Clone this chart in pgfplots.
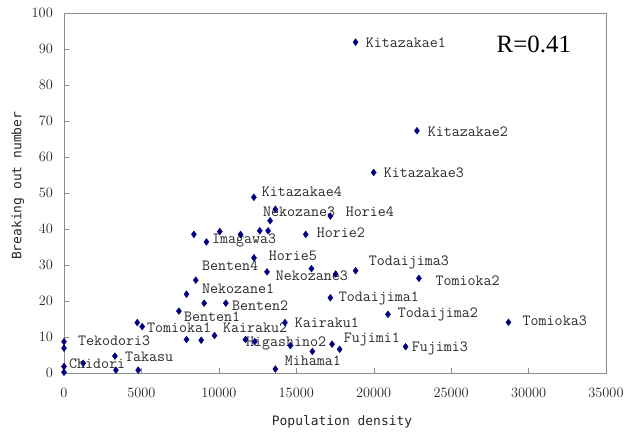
\documentclass[border=0pt]{standalone}
\usepackage{pgfplots}
\pgfplotsset{compat=1.18}
\usepackage{fontspec}
\setmainfont{Liberation Serif}
\newfontfamily\gothic{DejaVu Sans Mono}
\newfontfamily\rfont{Liberation Serif}
\definecolor{navy}{HTML}{000080}
\definecolor{frame}{HTML}{8C8C8C}
\definecolor{lbltext}{HTML}{2A2A2A}
\tikzset{lbl/.style={anchor=west, inner sep=0pt, text=lbltext,
    font=\ttfamily\fontsize{15.6}{15.6}\selectfont}}

\begin{document}
\begin{tikzpicture}
\begin{axis}[
  scale only axis, width=542bp, height=360bp,
  xmin=0, xmax=35000, ymin=0, ymax=100,
  xtick distance=5000, ytick distance=10,
  scaled x ticks=false,
  /pgf/number format/set thousands separator={},
  axis line style={frame},
  tick style={frame},
  tick align=inside, major tick length=5bp,
  xtick pos=bottom, ytick pos=left,
  ticklabel style={font=\fontsize{15}{15}\selectfont, text=black!85},
  xticklabel style={inner sep=0pt, anchor=north, yshift=-15bp},
  yticklabel style={inner sep=0pt, anchor=east, xshift=-11bp},
  xlabel={Population density},
  ylabel={Breaking out number},
  label style={font=\gothic\fontsize{13}{13}\selectfont, text=black!85},
  xlabel style={at={(axis description cs:0.513,-0.136)}, anchor=center},
  ylabel style={at={(axis description cs:-0.085,0.52)}, anchor=center},
  clip=false,
]
\addplot[only marks, mark=diamond*, mark size=3.4bp,
  mark options={draw=navy, fill=navy}] coordinates {
  (0,8.7) (0,6.9) (0,1.8) (0,0.2) (1240,2.7)
  (3290,4.7) (3350,0.8) (4790,0.8) (4730,14.0) (5050,12.9)
  (7420,17.2) (7910,21.9) (8510,25.8) (8390,38.5) (9200,36.4)
  (10060,39.3) (11400,38.5) (12640,39.5) (13180,39.5) (13310,42.3)
  (13650,45.5) (12260,48.8) (12270,32.0) (13110,28.1) (15980,29.0)
  (9050,19.4) (10450,19.4) (7910,9.3) (8860,9.1) (9720,10.4)
  (11720,9.3) (12320,8.7) (14270,14.0) (14620,7.6) (16040,6.0)
  (13650,1.1) (17200,43.6) (15610,38.5) (17540,27.5) (18830,28.4)
  (22920,26.3) (17200,20.9) (20920,16.3) (28700,14.1) (17310,8.0)
  (17800,6.6) (22060,7.3) (18830,91.9) (22790,67.3) (20000,55.7)
};
\node[lbl] at (axis cs:19480,91.7) {Kitazakae1};
\node[lbl] at (axis cs:23480,66.9) {Kitazakae2};
\node[lbl] at (axis cs:20640,55.6) {Kitazakae3};
\node[lbl] at (axis cs:12770,50.3) {Kitazakae4};
\node[lbl] at (axis cs:12840,44.7) {Nekozane3};
\node[lbl] at (axis cs:18190,44.7) {Horie4};
\node[lbl] at (axis cs:16320,38.9) {Horie2};
\node[lbl] at (axis cs:9550,36.9) {Imagawa3};
\node[lbl] at (axis cs:13220,32.5) {Horie5};
\node[lbl] at (axis cs:8900,29.7) {Benten4};
\node[lbl] at (axis cs:13670,26.9) {Nekozane3};
\node[lbl] at (axis cs:8900,23.3) {Nekozane1};
\node[lbl] at (axis cs:10840,18.6) {Benten2};
\node[lbl] at (axis cs:7740,15.6) {Benten1};
\node[lbl] at (axis cs:5350,12.5) {Tomioka1};
\node[lbl] at (axis cs:10260,12.5) {Kairaku2};
\node[lbl] at (axis cs:900,8.9) {Tekodori3};
\node[lbl] at (axis cs:11740,8.3) {Higashino2};
\node[lbl] at (axis cs:3930,4.4) {Takasu};
\node[lbl] at (axis cs:320,2.5) {Chidori};
\node[lbl] at (axis cs:14250,3.3) {Mihama1};
\node[lbl] at (axis cs:14900,13.9) {Kairaku1};
\node[lbl] at (axis cs:17740,20.6) {Todaijima1};
\node[lbl] at (axis cs:21540,16.4) {Todaijima2};
\node[lbl] at (axis cs:19670,30.8) {Todaijima3};
\node[lbl] at (axis cs:23990,25.6) {Tomioka2};
\node[lbl] at (axis cs:29610,14.4) {Tomioka3};
\node[lbl] at (axis cs:18060,9.4) {Fujimi1};
\node[lbl] at (axis cs:22450,6.7) {Fujimi3};
\node[anchor=west, inner sep=0pt, font=\rfont\fontsize{25}{25}\selectfont]
  at (axis cs:27930,91.4) {R=0.41};
\end{axis}
\pgfresetboundingbox
\path[use as bounding box] ([xshift=-64bp,yshift=-59bp]current axis.south west)
  rectangle ([xshift=19bp,yshift=13bp]current axis.north east);
\end{tikzpicture}
\end{document}
